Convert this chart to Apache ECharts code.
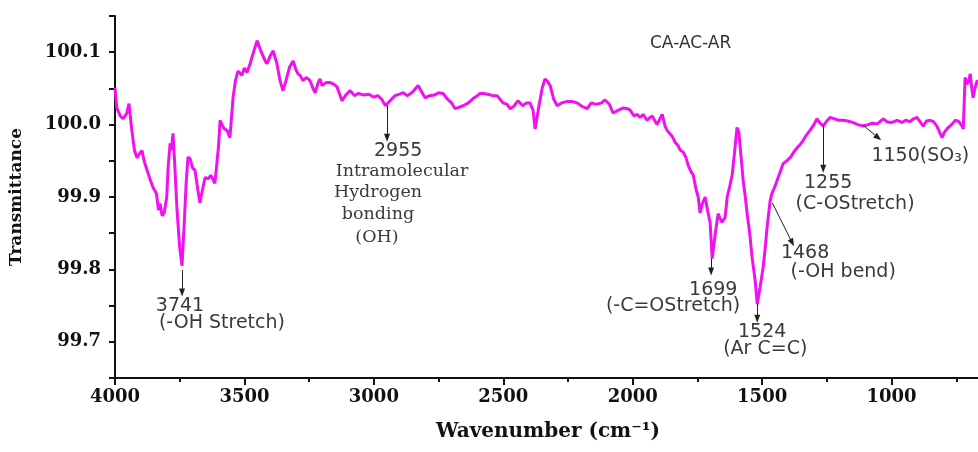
<!DOCTYPE html>
<html>
<head>
<meta charset="utf-8">
<script src="https://cdn.jsdelivr.net/npm/echarts@6/dist/echarts.min.js"></script>
<style>html,body{margin:0;padding:0;background:#fff}#c{width:978px;height:452px}</style>
</head>
<body>
<div id="c"></div>
<script>
const wavenumber = [4000,3993,3980,3969,3955,3946,3935,3925,3915,3905,3896,3886,3876,3865,3853,3840,3832,3826,3818,3810,3800,3795,3787,3782,3776,3770,3760,3750,3741,3733,3725,3718,3710,3700,3691,3680,3672,3662,3652,3640,3630,3614,3600,3594,3580,3567,3556,3544,3535,3525,3510,3500,3490,3478,3465,3451,3440,3432,3420,3413,3400,3389,3375,3362,3351,3340,3325,3312,3300,3293,3285,3274,3260,3247,3235,3227,3215,3208,3200,3185,3169,3155,3142,3130,3123,3110,3092,3075,3060,3040,3020,3000,2985,2970,2955,2940,2918,2900,2887,2870,2850,2829,2815,2802,2785,2765,2750,2733,2715,2700,2686,2670,2655,2635,2617,2600,2590,2578,2560,2540,2524,2501,2485,2474,2460,2443,2425,2410,2397,2385,2377,2365,2350,2339,2330,2319,2305,2292,2275,2253,2235,2215,2195,2176,2160,2140,2120,2107,2090,2076,2055,2037,2020,2010,1995,1983,1971,1960,1944,1933,1925,1906,1895,1886,1875,1867,1848,1835,1825,1817,1805,1795,1786,1775,1766,1755,1747,1740,1732,1720,1710,1701,1693,1682,1670,1662,1655,1643,1635,1625,1616,1607,1597,1590,1580,1573,1565,1558,1548,1539,1527,1519,1508,1496,1488,1481,1469,1462,1457,1450,1442,1430,1419,1405,1390,1378,1365,1352,1342,1330,1315,1300,1288,1276,1264,1250,1237,1220,1205,1187,1170,1150,1130,1110,1090,1075,1056,1045,1032,1018,1005,990,979,960,945,930,915,902,890,878,865,851,838,825,815,805,795,781,768,754,740,728,723,716,708,702,696,690,685,678,669,660];
const transmittance = [100.051,100.023,100.012,100.008,100.015,100.029,99.992,99.965,99.954,99.96,99.964,99.948,99.937,99.925,99.913,99.905,99.882,99.891,99.874,99.878,99.90,99.94,99.974,99.965,99.988,99.95,99.88,99.83,99.805,99.86,99.92,99.955,99.953,99.94,99.937,99.91,99.892,99.91,99.927,99.925,99.93,99.919,99.97,100.006,99.995,99.992,99.982,100.037,100.06,100.074,100.068,100.078,100.072,100.084,100.1,100.116,100.105,100.098,100.088,100.084,100.095,100.102,100.085,100.06,100.047,100.06,100.08,100.088,100.075,100.07,100.068,100.061,100.065,100.061,100.05,100.044,100.058,100.063,100.054,100.058,100.058,100.056,100.052,100.04,100.033,100.04,100.047,100.04,100.043,100.041,100.042,100.038,100.04,100.035,100.026,100.032,100.04,100.042,100.044,100.04,100.045,100.054,100.045,100.037,100.04,100.041,100.044,100.043,100.035,100.03,100.022,100.024,100.026,100.03,100.036,100.04,100.043,100.043,100.042,100.04,100.04,100.03,100.028,100.022,100.025,100.033,100.026,100.03,100.03,100.02,99.994,100.02,100.05,100.063,100.06,100.054,100.035,100.026,100.03,100.032,100.032,100.03,100.025,100.022,100.03,100.028,100.03,100.034,100.028,100.016,100.02,100.023,100.022,100.02,100.012,100.014,100.01,100.014,100.006,100.01,100.012,100.0,100.008,100.014,99.998,99.992,99.984,99.975,99.971,99.965,99.962,99.955,99.944,99.935,99.93,99.91,99.9,99.878,99.89,99.9,99.88,99.865,99.815,99.847,99.877,99.87,99.865,99.872,99.9,99.915,99.93,99.96,99.996,99.99,99.95,99.922,99.9,99.877,99.85,99.817,99.785,99.752,99.775,99.803,99.83,99.858,99.895,99.905,99.905,99.915,99.923,99.935,99.946,99.95,99.955,99.962,99.968,99.973,99.978,99.985,99.992,100.0,100.008,100.002,99.998,100.005,100.01,100.008,100.006,100.006,100.005,100.003,100.0,99.998,100.0,100.002,100.001,100.004,100.008,100.004,100.003,100.004,100.006,100.003,100.006,100.004,100.008,100.01,100.004,99.998,100.005,100.006,100.004,99.998,99.99,99.982,99.99,99.996,100.0,100.006,100.004,99.998,99.994,100.065,100.056,100.06,100.07,100.05,100.037,100.05,100.061,100.055];

// annotation labels (text, centre wavenumber, centre transmittance, serif?)
const labelText = ['3741','(-OH Stretch)','2955','Intramolecular','Hydrogen','bonding','(OH)','1699','(-C=OStretch)','1524','(Ar C=C)','1468','(-OH bend)','1255','(C-OStretch)','1150(SO\u2083)'];
const labelWn    = [3749,3587,2906,2891,2984,2984,2988,1689,1844,1500,1488,1334,1187,1245,1141,889];
const labelT     = [99.750,99.7255,99.964,99.935,99.906,99.876,99.844,99.772,99.749,99.714,99.690,99.823,99.796,99.919,99.890,99.956];
const labelSerif = [0,0,0,1,1,1,1,0,0,0,0,0,0,0,0,0];

// arrows (from -> to)
const arrowFromWn = [3741,2949,1697,1519,1461,1264,1110];
const arrowFromT  = [99.799,100.026,99.815,99.753,99.892,99.999,99.999];
const arrowToWn   = [3741,2949,1697,1519,1384,1264,1052];
const arrowToT    = [99.768,99.982,99.797,99.732,99.837,99.939,99.982];

const xTicks = [4000,3500,3000,2500,2000,1500,1000];
const yTicks = [99.7,99.8,99.9,100.0,100.1];

const chart = echarts.init(document.getElementById('c'), null, {renderer:'canvas'});
const serif = 'DejaVu Serif';
const sans = 'DejaVu Sans';

const points = wavenumber.map((w,i)=>[w, transmittance[i]]);
const markTexts = labelText.map((t,i)=>({
  coord:[labelWn[i], labelT[i]],
  symbol:'circle', symbolSize:1,
  itemStyle:{color:'rgba(0,0,0,0)'},
  label:{show:true, position:'inside', formatter:t,
    fontFamily: labelSerif[i] ? serif : sans,
    fontSize: labelSerif[i] ? 17.5 : 19,
    color:'#3a3a3a'}
}));
const arrows = arrowFromWn.map((w,i)=>[
  {coord:[w, arrowFromT[i]]},
  {coord:[arrowToWn[i], arrowToT[i]]}
]);

chart.setOption({
  animation:false,
  backgroundColor:'#fff',
  title:{text:'CA-AC-AR', left:645, top:30,
    textStyle:{fontFamily:sans, fontSize:17, fontWeight:'normal', color:'#333'}},
  grid:{left:115, width:906, top:16, bottom:74, containLabel:false, outerBoundsMode:'none'},
  xAxis:{
    type:'value', inverse:true, min:500, max:4000, interval:500,
    axisLine:{show:true, onZero:false, lineStyle:{color:'#111', width:2}},
    axisTick:{show:true, inside:false, length:7, lineStyle:{color:'#111', width:2}},
    minorTick:{show:true, splitNumber:2, length:4, lineStyle:{color:'#111', width:2}},
    splitLine:{show:false},
    axisLabel:{margin:10, fontFamily:serif, fontWeight:'bold', fontSize:18, color:'#111',
      formatter:(v)=> xTicks.includes(Math.round(v)) ? String(Math.round(v)) : ''},
    name:'Wavenumber (cm\u207B\u00B9)', nameLocation:'middle', nameGap:44,
    nameTextStyle:{fontFamily:serif, fontWeight:'bold', fontSize:20, color:'#111', padding:[0,40,0,0]}
  },
  yAxis:{
    type:'value', min:99.65, max:100.15, interval:0.05,
    axisLine:{show:true, onZero:false, lineStyle:{color:'#111', width:2}},
    axisTick:{show:true, inside:false, length:6, lineStyle:{color:'#111', width:2}},
    splitLine:{show:false},
    axisLabel:{margin:14, fontFamily:serif, fontWeight:'bold', fontSize:18, color:'#111',
      formatter:(v)=>{ const r=Math.round(v*10)/10; return (Math.abs(v-r)<1e-6 && yTicks.some(t=>Math.abs(t-r)<1e-6)) ? r.toFixed(1) : ''; }},
    name:'Transmittance', nameLocation:'middle', nameGap:90,
    nameTextStyle:{fontFamily:serif, fontWeight:'bold', fontSize:17, color:'#111'}
  },
  series:[{
    type:'line', data:points, showSymbol:false, symbol:'none',
    lineStyle:{color:'#f010f0', width:3},
    clip:true,
    markLine:{silent:true, symbol:['none','triangle'], symbolSize:[6,8],
      lineStyle:{color:'#222', width:1, type:'solid'}, label:{show:false},
      data:arrows},
    markPoint:{silent:true, data:markTexts}
  }]
});
</script>
</body>
</html>
